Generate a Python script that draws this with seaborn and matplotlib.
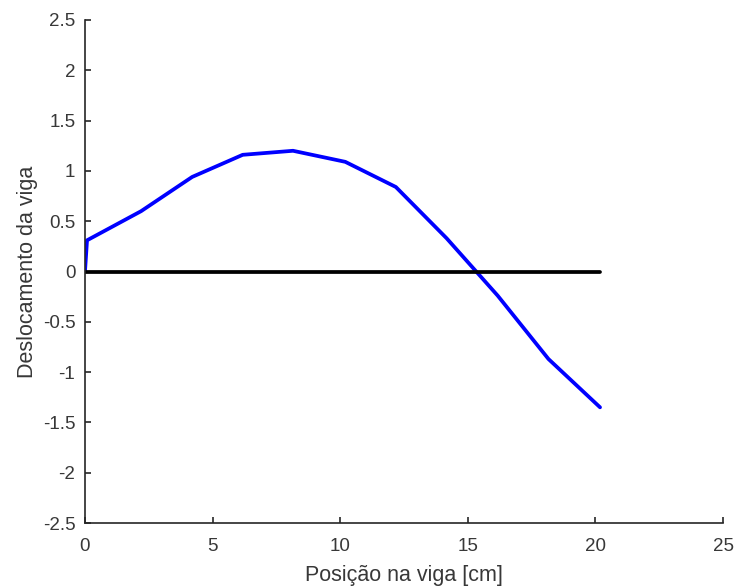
import matplotlib
matplotlib.use("Agg")
import matplotlib.pyplot as plt
import seaborn as sns
import pandas as pd

# Data
posicao = [0.0, 0.08, 2.2, 4.2, 6.18, 8.15, 10.2, 12.18, 14.17, 16.17, 18.16, 20.18]
deslocamento = [0.0, 0.31, 0.6, 0.94, 1.16, 1.2, 1.09, 0.84, 0.33, -0.24, -0.87, -1.35]
ref_x = [0.0, 20.18]
ref_y = [0.0, 0.0]
x_ticks = [0, 5, 10, 15, 20, 25]
y_ticks = [-2.5, -2, -1.5, -1, -0.5, 0, 0.5, 1, 1.5, 2, 2.5]
y_tick_labels = ["-2.5", "-2", "-1.5", "-1", "-0.5", "0", "0.5", "1", "1.5", "2", "2.5"]

sns.set_style("ticks")
plt.rcParams["font.family"] = ["Liberation Sans", "DejaVu Sans"]
dark = "#262626"

fig = plt.figure(figsize=(7.37, 5.88), dpi=100)
ax = fig.add_axes([0.1153, 0.1105, 0.8658, 0.8555])

df = pd.DataFrame({"x": posicao, "y": deslocamento})
ref = pd.DataFrame({"x": ref_x, "y": ref_y})

sns.lineplot(data=df, x="x", y="y", ax=ax, color="#0000ff", linewidth=2.7,
             sort=False, estimator=None)
sns.lineplot(data=ref, x="x", y="y", ax=ax, color="black", linewidth=2.7,
             sort=False, estimator=None)

ax.set_xlim(0, 25)
ax.set_ylim(-2.5, 2.5)
ax.set_xticks(x_ticks)
ax.set_xticklabels([str(t) for t in x_ticks])
ax.set_yticks(y_ticks)
ax.set_yticklabels(y_tick_labels)
ax.tick_params(direction="in", length=4, width=1.2, colors=dark, labelsize=13.5,
               labelcolor="#383838")
ax.tick_params(axis="x", pad=11)
ax.tick_params(axis="y", pad=7)
for side in ["top", "right"]:
    ax.spines[side].set_visible(False)
for side in ["left", "bottom"]:
    ax.spines[side].set_color(dark)
    ax.spines[side].set_linewidth(1.2)

ax.set_xlabel("Posição na viga [cm]", fontsize=15.5, color="#383838", labelpad=7)
ax.set_ylabel("Deslocamento da viga", fontsize=15.5, color="#383838", labelpad=3)

fig.savefig("out.png", dpi=100)
